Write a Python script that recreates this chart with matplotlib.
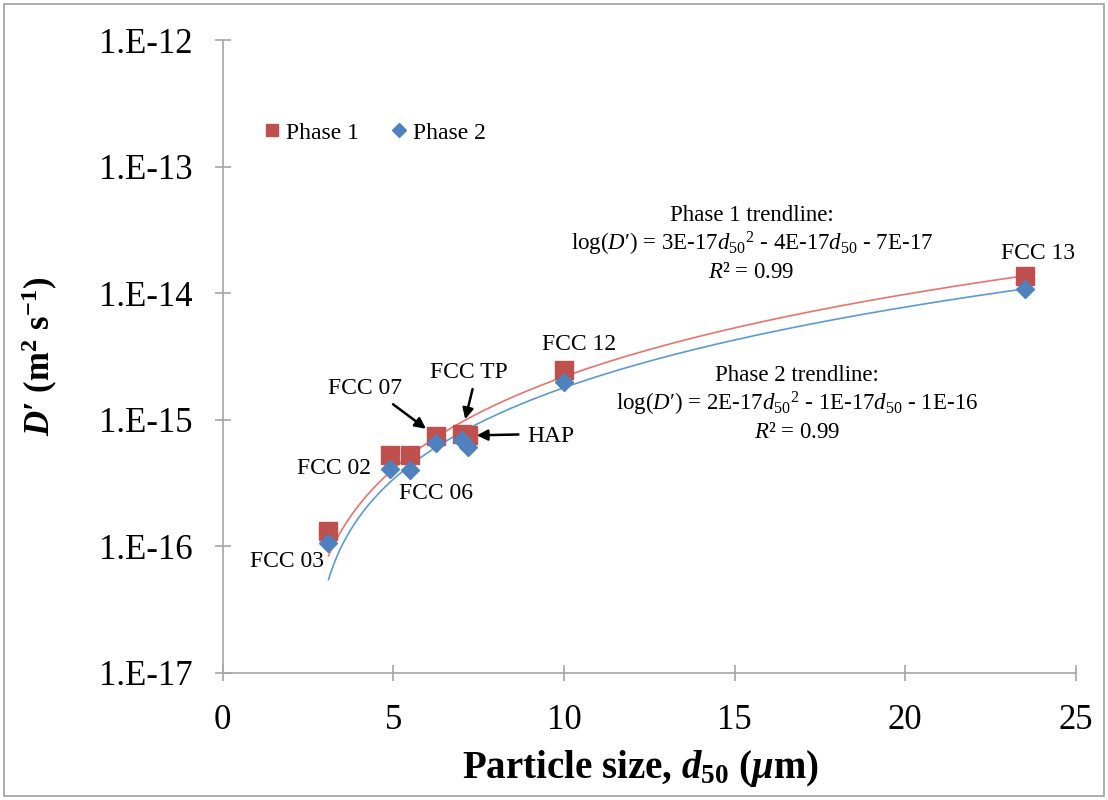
import numpy as np
import matplotlib
matplotlib.use('Agg')
import matplotlib.pyplot as plt
from matplotlib.patches import Rectangle
from matplotlib.ticker import FuncFormatter

plt.rcParams['font.family'] = ['Liberation Serif', 'DejaVu Serif']
plt.rcParams['mathtext.fontset'] = 'custom'
plt.rcParams['mathtext.rm'] = 'Liberation Serif'
plt.rcParams['mathtext.it'] = 'Liberation Serif:italic'
plt.rcParams['mathtext.bf'] = 'Liberation Serif:bold'
plt.rcParams['mathtext.bfit'] = 'Liberation Serif:italic:bold'

# samples (d50 in um) and effective diffusivity D' (m2/s)
labels = ['FCC 03', 'FCC 02', 'FCC 06', 'FCC 07', 'FCC TP', 'HAP', 'FCC 12', 'FCC 13']
d50 = [3.1, 4.9, 5.5, 6.25, 7.0, 7.2, 10.0, 23.5]
phase1 = [1.32e-16, 5.3e-16, 5.3e-16, 7.4e-16, 7.7e-16, 7.5e-16, 2.45e-15, 1.37e-14]
phase2 = [1.06e-16, 4.1e-16, 4.0e-16, 6.6e-16, 6.9e-16, 6.1e-16, 1.99e-15, 1.08e-14]

red = '#C0504D'
blue = '#4F81BD'

fig = plt.figure(figsize=(11.08, 8), dpi=100)
ax = fig.add_axes([0.201, 0.159, 0.77, 0.791])

# excel style 2nd order polynomial trendlines (fit on linear D')
xs = np.linspace(min(d50), max(d50), 300)
c1 = np.polyfit(d50, phase1, 2)
c2 = np.polyfit(d50, phase2, 2)
ax.plot(xs, np.polyval(c1, xs), color='#E8736F', lw=1.2, zorder=2)
ax.plot(xs, np.polyval(c2, xs), color='#5B9BD5', lw=1.2, zorder=2)

ax.plot(d50, phase1, 's', color=red, ms=12.5, label='Phase 1', zorder=3)
ax.plot(d50, phase2, 'D', color=blue, ms=9.5, label='Phase 2', zorder=4)

ax.set_yscale('log')
ax.set_ylim(1e-17, 1e-12)
ax.set_xlim(0, 25)
ax.set_xticks([0, 5, 10, 15, 20, 25])
ax.set_yticks([1e-17, 1e-16, 1e-15, 1e-14, 1e-13, 1e-12])
ax.yaxis.set_minor_locator(matplotlib.ticker.NullLocator())
ax.yaxis.set_major_formatter(FuncFormatter(lambda v, p: '1.E%d' % round(np.log10(v))))

for s in ['top', 'right']:
    ax.spines[s].set_visible(False)
for s in ['left', 'bottom']:
    ax.spines[s].set_color('#A6A6A6')
    ax.spines[s].set_linewidth(1.2)
ax.tick_params(direction='inout', length=11.5, width=1.2, color='#A6A6A6',
               labelsize=25, labelcolor='black')
ax.tick_params(axis='x', pad=17)
ax.tick_params(axis='y', pad=16)

ax.set_xlabel('Particle size, $\\mathbfit{d}_{\\mathbf{50}}$ ($\\mathbfit{μ}$m)',
              fontsize=28, fontweight='bold', va='center')
ax.xaxis.set_label_coords(0.49, -0.152)
ax.set_ylabel('$\\mathbfit{D}$′ (m$^{\\mathbf{2}}$ s$^{\\mathbf{-1}}$)',
              fontsize=25, fontweight='bold', va='center')
ax.yaxis.set_label_coords(-0.214, 0.5)

ax.legend(loc='upper left', bbox_to_anchor=(0.019, 0.904), ncol=2, frameon=False,
          fontsize=17, handletextpad=0.1, columnspacing=1.2, handlelength=1.0,
          markerscale=0.7)

# sample labels, offsets in pixels from the Phase 1 marker
offs = {'FCC 03': (-4, -31, 'right'), 'FCC 02': (-19, -14, 'right'),
        'FCC 06': (26, -39, 'center'), 'FCC 07': (-71, 48, 'center'),
        'FCC TP': (7, 62, 'center'), 'HAP': (83, -1, 'center'),
        'FCC 12': (15, 26, 'center'), 'FCC 13': (13, 22, 'center')}
for lab, x, y in zip(labels, d50, phase1):
    dx, dy, ha = offs[lab]
    ax.annotate(lab, xy=(x, y), xytext=(dx, dy), textcoords='offset pixels',
                ha=ha, va='center', fontsize=17)

arrows = {'FCC 07': (-43, 32, 9), 'FCC TP': (11, 45, 11), 'HAP': (50, 1, 6)}
for lab, x, y in zip(labels, d50, phase1):
    if lab in arrows:
        dx, dy, sh = arrows[lab]
        ax.annotate('', xy=(x, y), xytext=(dx, dy), textcoords='offset pixels',
                    arrowprops=dict(arrowstyle='-|>', color='black', lw=1.8,
                                    shrinkA=0, shrinkB=sh, mutation_scale=16))

ax.text(0.62, 0.678, 'Phase 1 trendline:\n'
        'log($D$′) = 3E-17$d_{50}$$^{2}$ - 4E-17$d_{50}$ - 7E-17\n'
        '$R$² = 0.99', transform=ax.transAxes, ha='center', va='center',
        fontsize=16.5, linespacing=1.22)
ax.text(0.673, 0.425, 'Phase 2 trendline:\n'
        'log($D$′) = 2E-17$d_{50}$$^{2}$ - 1E-17$d_{50}$ - 1E-16\n'
        '$R$² = 0.99', transform=ax.transAxes, ha='center', va='center',
        fontsize=16.5, linespacing=1.22)

fig.patches.append(Rectangle((0.004, 0.005), 0.992, 0.99, transform=fig.transFigure,
                             fill=False, edgecolor='#A0A0A0', lw=1.2))

fig.savefig('out.png', dpi=100)
